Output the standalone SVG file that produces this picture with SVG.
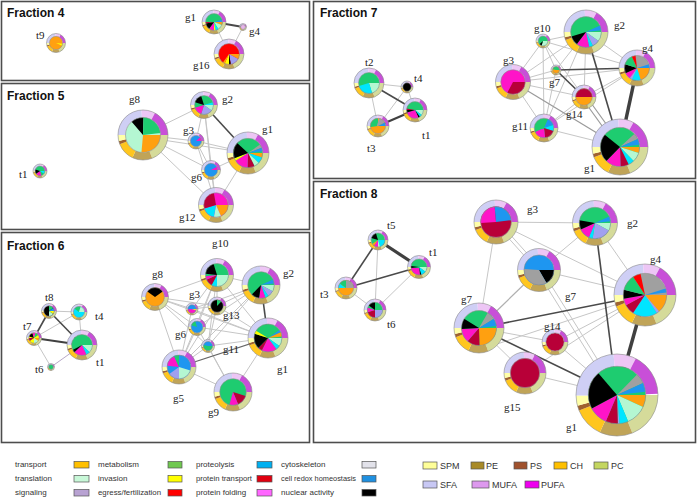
<svg xmlns="http://www.w3.org/2000/svg" xmlns:xlink="http://www.w3.org/1999/xlink" width="697" height="497" viewBox="0 0 697 497">
<style>
.fr{fill:#fff;stroke:#4d4d4d;stroke-width:1.6}
.ti{font:bold 12px "Liberation Sans",Arial,sans-serif;fill:#111}
.lb{font:11px "Liberation Serif","Times New Roman",serif;fill:#222}
.lg{font:8px "Liberation Sans",Arial,sans-serif;fill:#333}
.lg2{font:9px "Liberation Sans",Arial,sans-serif;fill:#333}
.l{stroke:#c6c6c6;stroke-width:1}
.m{stroke:#9a9a9a;stroke-width:1.2}
.d{stroke:#4a4a4a;stroke-width:1.6}
.t{stroke:#404040;stroke-width:3}
.rg{fill:none;stroke-width:3}
.s{fill:none;stroke-width:7}
.ol{fill:none;stroke:#8c8c8c;stroke-width:0.6;vector-effect:non-scaling-stroke}
.sw{stroke:#555;stroke-width:0.7}
.G{stroke:#1ecc70}.O{stroke:#ffa010}.K{stroke:#000}.M{stroke:#ff14c8}.D{stroke:#b80038}.C{stroke:#00e5ff}.B{stroke:#1e96f0}.L{stroke:#a0a0f0}.Y{stroke:#ffff00}.R{stroke:#ff0000}.N{stroke:#b4f7d2}.Gr{stroke:#a0a0a0}.P{stroke:#e8b4ea}
</style>
<defs>
<g id="ring">
<circle r="8.5" pathLength="100" class="rg" stroke="#d5db9a" stroke-dasharray="19 100"/>
<circle r="8.5" pathLength="100" class="rg" stroke="#c0a458" stroke-dasharray="13 100" stroke-dashoffset="-19"/>
<circle r="8.5" pathLength="100" class="rg" stroke="#ffc61e" stroke-dasharray="12 100" stroke-dashoffset="-32"/>
<circle r="8.5" pathLength="100" class="rg" stroke="#a0622e" stroke-dasharray="2 100" stroke-dashoffset="-44"/>
<circle r="8.5" pathLength="100" class="rg" stroke="#ffffa8" stroke-dasharray="4 100" stroke-dashoffset="-46"/>
<circle r="8.5" pathLength="100" class="rg" stroke="#cfcff5" stroke-dasharray="24 100" stroke-dashoffset="-50"/>
<circle r="8.5" pathLength="100" class="rg" stroke="#edc6f5" stroke-dasharray="9 100" stroke-dashoffset="-74"/>
<circle r="8.5" pathLength="100" class="rg" stroke="#c84fd8" stroke-dasharray="17 100" stroke-dashoffset="-83"/>
</g>
<g id="ol"><circle r="10" class="ol"/><circle r="7" class="ol"/></g>
</defs>
<rect width="697" height="497" fill="#fff"/>
<g id="frames">
<rect class="fr" x="1.5" y="1.5" width="308" height="79"/>
<rect class="fr" x="1.5" y="83.5" width="308" height="146"/>
<rect class="fr" x="1.5" y="232.5" width="308" height="210"/>
<rect class="fr" x="313.5" y="1.5" width="382" height="177"/>
<rect class="fr" x="313.5" y="181.5" width="382" height="261"/>
<text class="ti" x="7" y="17">Fraction 4</text>
<text class="ti" x="7" y="100">Fraction 5</text>
<text class="ti" x="7" y="250">Fraction 6</text>
<text class="ti" x="320" y="17">Fraction 7</text>
<text class="ti" x="320" y="198">Fraction 8</text>
</g>
<g id="connectors">
<line class="l" x1="214" y1="22" x2="229" y2="54"/><line class="l" x1="243" y1="27" x2="229" y2="54"/><line class="d" x1="214" y1="22" x2="243" y2="27" style="stroke-width:2"/>
<line class="l" x1="143" y1="135" x2="204" y2="105"/><line class="l" x1="143" y1="135" x2="196" y2="141"/><line class="l" x1="143" y1="137" x2="248" y2="153"/><line class="l" x1="143" y1="135" x2="211" y2="170"/><line class="l" x1="143" y1="135" x2="216" y2="205"/><line class="l" x1="204" y1="105" x2="196" y2="141"/><line class="l" x1="204" y1="105" x2="211" y2="170"/><line class="l" x1="204" y1="105" x2="216" y2="205"/><line class="l" x1="196" y1="141" x2="248" y2="153"/><line class="l" x1="196" y1="141" x2="211" y2="170"/><line class="l" x1="196" y1="141" x2="216" y2="205"/><line class="l" x1="211" y1="170" x2="248" y2="153"/><line class="l" x1="211" y1="170" x2="216" y2="205"/><line class="l" x1="248" y1="153" x2="216" y2="205"/><line class="d" x1="204" y1="105" x2="248" y2="153"/>
<line class="l" x1="49" y1="311" x2="79" y2="312"/><line class="l" x1="79" y1="312" x2="34" y2="338"/><line class="l" x1="79" y1="312" x2="82" y2="345"/><line class="l" x1="34" y1="338" x2="51" y2="367"/><line class="l" x1="51" y1="367" x2="82" y2="345" style="stroke:#b8a8c8"/><line class="d" x1="49" y1="311" x2="34" y2="338"/><line class="d" x1="49" y1="311" x2="82" y2="345"/><line class="t" x1="34" y1="338" x2="82" y2="345" style="stroke-width:2.2"/>
<line class="l" x1="217" y1="275" x2="155" y2="297"/><line class="l" x1="217" y1="275" x2="261" y2="285"/><line class="l" x1="217" y1="275" x2="192" y2="309"/><line class="l" x1="217" y1="275" x2="217" y2="306"/><line class="l" x1="217" y1="275" x2="197" y2="327"/><line class="l" x1="217" y1="275" x2="208" y2="346"/><line class="l" x1="217" y1="275" x2="179" y2="367"/><line class="l" x1="217" y1="275" x2="268" y2="338"/><line class="l" x1="155" y1="297" x2="192" y2="309"/><line class="l" x1="155" y1="297" x2="197" y2="327"/><line class="l" x1="155" y1="297" x2="179" y2="367"/><line class="l" x1="155" y1="297" x2="268" y2="338"/><line class="l" x1="155" y1="297" x2="208" y2="346"/><line class="l" x1="155" y1="297" x2="217" y2="306"/><line class="l" x1="261" y1="285" x2="217" y2="306"/><line class="l" x1="261" y1="285" x2="197" y2="327"/><line class="l" x1="261" y1="285" x2="179" y2="367"/><line class="l" x1="261" y1="285" x2="208" y2="346"/><line class="l" x1="261" y1="285" x2="192" y2="309"/><line class="l" x1="192" y1="309" x2="268" y2="338"/><line class="l" x1="192" y1="309" x2="179" y2="367"/><line class="l" x1="192" y1="309" x2="217" y2="306"/><line class="l" x1="217" y1="306" x2="179" y2="367"/><line class="l" x1="217" y1="306" x2="268" y2="338"/><line class="l" x1="217" y1="306" x2="208" y2="346"/><line class="l" x1="197" y1="327" x2="179" y2="367"/><line class="l" x1="197" y1="327" x2="268" y2="338"/><line class="l" x1="208" y1="346" x2="179" y2="367"/><line class="l" x1="208" y1="346" x2="268" y2="338"/><line class="l" x1="208" y1="346" x2="233" y2="392"/><line class="l" x1="179" y1="367" x2="233" y2="392"/><line class="l" x1="268" y1="338" x2="233" y2="392"/><line class="l" x1="197" y1="327" x2="233" y2="392"/><line class="d" x1="261" y1="285" x2="268" y2="338"/><line class="d" x1="179" y1="367" x2="268" y2="338" style="stroke:#666;stroke-width:1.3"/>
<line class="l" x1="369" y1="83" x2="407" y2="87"/><line class="l" x1="369" y1="83" x2="378" y2="126"/><line class="l" x1="378" y1="126" x2="407" y2="87"/><line class="l" x1="407" y1="87" x2="415" y2="110"/><line class="d" x1="369" y1="83" x2="415" y2="110"/><line class="t" x1="378" y1="126" x2="415" y2="110" style="stroke-width:2.2"/>
<line class="l" x1="543" y1="41" x2="586" y2="32"/><line class="l" x1="543" y1="41" x2="513" y2="82"/><line class="l" x1="543" y1="41" x2="556" y2="70"/><line class="l" x1="543" y1="41" x2="544" y2="128"/><line class="l" x1="543" y1="41" x2="584" y2="97"/><line class="l" x1="543" y1="41" x2="637" y2="68"/><line class="l" x1="513" y1="82" x2="586" y2="32"/><line class="l" x1="513" y1="82" x2="637" y2="68"/><line class="l" x1="513" y1="82" x2="544" y2="128"/><line class="l" x1="513" y1="82" x2="584" y2="97"/><line class="l" x1="513" y1="82" x2="556" y2="70"/><line class="l" x1="586" y1="32" x2="637" y2="68"/><line class="l" x1="586" y1="32" x2="544" y2="128"/><line class="l" x1="586" y1="32" x2="584" y2="97"/><line class="l" x1="586" y1="32" x2="556" y2="70"/><line class="l" x1="637" y1="68" x2="584" y2="97"/><line class="l" x1="637" y1="68" x2="544" y2="128"/><line class="l" x1="544" y1="128" x2="620" y2="147"/><line class="l" x1="544" y1="128" x2="584" y2="97"/><line class="l" x1="544" y1="128" x2="556" y2="70"/><line class="m" x1="513" y1="82" x2="620" y2="147"/><line class="m" x1="582" y1="98" x2="618" y2="148"/><line class="m" x1="586" y1="96" x2="622" y2="146"/><line class="d" x1="556" y1="70" x2="637" y2="68"/><line class="d" x1="556" y1="70" x2="584" y2="97"/><line class="d" x1="586" y1="32" x2="620" y2="147"/><line class="t" x1="637" y1="68" x2="620" y2="147" style="stroke-width:3.5"/>
<line class="l" x1="378" y1="240" x2="375" y2="310"/><line class="l" x1="346" y1="288" x2="375" y2="310"/><line class="l" x1="375" y1="310" x2="419" y2="267"/><line class="d" x1="378" y1="240" x2="346" y2="288"/><line class="d" x1="346" y1="288" x2="419" y2="267"/><line class="t" x1="378" y1="240" x2="419" y2="267" style="stroke-width:3.2"/>
<line class="l" x1="496" y1="222" x2="595" y2="223"/><line class="l" x1="496" y1="222" x2="479" y2="328"/><line class="l" x1="496" y1="222" x2="645" y2="295"/><line class="l" x1="495" y1="223" x2="538" y2="271"/><line class="l" x1="498" y1="221" x2="541" y2="269"/><line class="l" x1="595" y1="223" x2="539" y2="270"/><line class="l" x1="595" y1="223" x2="645" y2="295"/><line class="l" x1="539" y1="270" x2="645" y2="295"/><line class="l" x1="539" y1="270" x2="479" y2="328" style="stroke:#b0b0b0;stroke-width:1.3"/><line class="l" x1="537" y1="271" x2="615" y2="396"/><line class="l" x1="541" y1="269" x2="619" y2="394"/><line class="l" x1="479" y1="328" x2="555" y2="342"/><line class="l" x1="479" y1="328" x2="525" y2="373"/><line class="l" x1="525" y1="373" x2="617" y2="395"/><line class="l" x1="645" y1="295" x2="555" y2="342"/><line class="l" x1="645" y1="295" x2="525" y2="373"/><line class="l" x1="555" y1="342" x2="617" y2="395"/><line class="l" x1="645" y1="295" x2="479" y2="350"/><line class="d" x1="479" y1="328" x2="645" y2="295"/><line class="d" x1="479" y1="328" x2="617" y2="395"/><line class="d" x1="595" y1="223" x2="617" y2="395"/><line class="t" x1="645" y1="295" x2="617" y2="395" style="stroke-width:3.5"/>
</g>
<g id="f4-t9"><g transform="translate(56 43) scale(.95)"><use href="#ring"/><circle r="3.5" class="s O"/><circle r="3.5" pathLength="100" class="s Y" stroke-dasharray="5 100" stroke-dashoffset="-2"/><use href="#ol"/></g><text class="lb" x="36" y="39">t9</text></g>
<g id="f4-g1"><g transform="translate(214 22) scale(1.2)"><use href="#ring"/><circle r="3.5" class="s G"/><circle r="3.5" pathLength="100" class="s B" stroke-dasharray="5 100" stroke-dashoffset="-95"/><circle r="3.5" pathLength="100" class="s O" stroke-dasharray="6 100"/><circle r="3.5" pathLength="100" class="s N" stroke-dasharray="10 100" stroke-dashoffset="-6"/><circle r="3.5" pathLength="100" class="s C" stroke-dasharray="6 100" stroke-dashoffset="-16"/><circle r="3.5" pathLength="100" class="s Y" stroke-dasharray="3 100" stroke-dashoffset="-22"/><circle r="3.5" pathLength="100" class="s M" stroke-dasharray="10 100" stroke-dashoffset="-25"/><circle r="3.5" pathLength="100" class="s K" stroke-dasharray="12 100" stroke-dashoffset="-35"/><circle r="3.5" pathLength="100" class="s D" stroke-dasharray="3 100" stroke-dashoffset="-47"/><use href="#ol"/></g><text class="lb" x="185" y="21">g1</text></g>
<g id="f4-g4"><g transform="translate(243 27) scale(.35)"><use href="#ring"/><circle r="3.5" class="s P"/><use href="#ol"/></g><text class="lb" x="249" y="35">g4</text></g>
<g id="f4-g16"><g transform="translate(229 54) scale(1.5)"><use href="#ring"/><circle r="3.5" class="s R"/><circle r="3.5" pathLength="100" class="s O" stroke-dasharray="8 100"/><circle r="3.5" pathLength="100" class="s L" stroke-dasharray="14 100" stroke-dashoffset="-8"/><circle r="3.5" pathLength="100" class="s K" stroke-dasharray="3 100" stroke-dashoffset="-22"/><circle r="3.5" pathLength="100" class="s Y" stroke-dasharray="7 100" stroke-dashoffset="-25"/><circle r="3.5" pathLength="100" class="s O" stroke-dasharray="3 100" stroke-dashoffset="-32"/><use href="#ol"/></g><text class="lb" x="193" y="69">g16</text></g>
<g id="f5-t1"><g transform="translate(40 171) scale(.7)"><use href="#ring"/><circle r="3.5" class="s G"/><circle r="3.5" pathLength="100" class="s C" stroke-dasharray="10 100"/><circle r="3.5" pathLength="100" class="s M" stroke-dasharray="20 100" stroke-dashoffset="-20"/><circle r="3.5" pathLength="100" class="s K" stroke-dasharray="15 100" stroke-dashoffset="-40"/><use href="#ol"/></g><text class="lb" x="19" y="178">t1</text></g>
<g id="f5-g8"><g transform="translate(143 135) scale(2.5)"><use href="#ring"/><circle r="3.5" class="s N"/><circle r="3.5" pathLength="100" class="s K" stroke-dasharray="12 100" stroke-dashoffset="-65"/><circle r="3.5" pathLength="100" class="s G" stroke-dasharray="23 100" stroke-dashoffset="-77"/><circle r="3.5" pathLength="100" class="s O" stroke-dasharray="27 100"/><use href="#ol"/></g><text class="lb" x="129" y="103">g8</text></g>
<g id="f5-g2"><g transform="translate(204 105) scale(1.35)"><use href="#ring"/><circle r="3.5" class="s G"/><circle r="3.5" pathLength="100" class="s C" stroke-dasharray="5 100" stroke-dashoffset="-95"/><circle r="3.5" pathLength="100" class="s N" stroke-dasharray="10 100"/><circle r="3.5" pathLength="100" class="s L" stroke-dasharray="20 100" stroke-dashoffset="-10"/><circle r="3.5" pathLength="100" class="s M" stroke-dasharray="15 100" stroke-dashoffset="-30"/><circle r="3.5" pathLength="100" class="s K" stroke-dasharray="15 100" stroke-dashoffset="-55"/><use href="#ol"/></g><text class="lb" x="222" y="103">g2</text></g>
<g id="f5-g3"><g transform="translate(196 141) scale(.8)"><use href="#ring"/><circle r="3.5" class="s B"/><circle r="3.5" pathLength="100" class="s M" stroke-dasharray="12 100" stroke-dashoffset="-88"/><use href="#ol"/></g><text class="lb" x="183" y="134">g3</text></g>
<g id="f5-g1"><g transform="translate(248 153) scale(2.1)"><use href="#ring"/><circle r="3.5" class="s G"/><circle r="3.5" pathLength="100" class="s Gr" stroke-dasharray="4 100" stroke-dashoffset="-92"/><circle r="3.5" pathLength="100" class="s B" stroke-dasharray="4 100" stroke-dashoffset="-96"/><circle r="3.5" pathLength="100" class="s O" stroke-dasharray="5 100"/><circle r="3.5" pathLength="100" class="s C" stroke-dasharray="7 100" stroke-dashoffset="-5"/><circle r="3.5" pathLength="100" class="s N" stroke-dasharray="6 100" stroke-dashoffset="-12"/><circle r="3.5" pathLength="100" class="s D" stroke-dasharray="8 100" stroke-dashoffset="-18"/><circle r="3.5" pathLength="100" class="s M" stroke-dasharray="16 100" stroke-dashoffset="-26"/><circle r="3.5" pathLength="100" class="s Y" stroke-dasharray="3 100" stroke-dashoffset="-42"/><circle r="3.5" pathLength="100" class="s K" stroke-dasharray="18 100" stroke-dashoffset="-45"/><use href="#ol"/></g><text class="lb" x="262" y="133">g1</text></g>
<g id="f5-g6"><g transform="translate(211 170) scale(.95)"><use href="#ring"/><circle r="3.5" class="s B"/><circle r="3.5" pathLength="100" class="s M" stroke-dasharray="8 100" stroke-dashoffset="-92"/><use href="#ol"/></g><text class="lb" x="191" y="181">g6</text></g>
<g id="f5-g12"><g transform="translate(216 205) scale(1.75)"><use href="#ring"/><circle r="3.5" class="s M"/><circle r="3.5" pathLength="100" class="s O" stroke-dasharray="18 100"/><circle r="3.5" pathLength="100" class="s N" stroke-dasharray="10 100" stroke-dashoffset="-18"/><circle r="3.5" pathLength="100" class="s C" stroke-dasharray="17 100" stroke-dashoffset="-28"/><circle r="3.5" pathLength="100" class="s D" stroke-dasharray="27 100" stroke-dashoffset="-45"/><use href="#ol"/></g><text class="lb" x="179" y="221">g12</text></g>
<g id="f6-t8"><g transform="translate(49 311) scale(.75)"><use href="#ring"/><circle r="3.5" class="s K"/><circle r="3.5" pathLength="100" class="s G" stroke-dasharray="15 100" stroke-dashoffset="-75"/><circle r="3.5" pathLength="100" class="s B" stroke-dasharray="10 100" stroke-dashoffset="-90"/><circle r="3.5" pathLength="100" class="s Y" stroke-dasharray="10 100"/><circle r="3.5" pathLength="100" class="s N" stroke-dasharray="15 100" stroke-dashoffset="-10"/><use href="#ol"/></g><text class="lb" x="45" y="301">t8</text></g>
<g id="f6-t4"><g transform="translate(79 312) scale(.8)"><use href="#ring"/><circle r="3.5" class="s C"/><circle r="3.5" pathLength="100" class="s G" stroke-dasharray="20 100" stroke-dashoffset="-60"/><circle r="3.5" pathLength="100" class="s N" stroke-dasharray="20 100" stroke-dashoffset="-80"/><use href="#ol"/></g><text class="lb" x="95" y="320">t4</text></g>
<g id="f6-t7"><g transform="translate(34 338) scale(.75)"><use href="#ring"/><circle r="3.5" class="s Y"/><circle r="3.5" pathLength="100" class="s K" stroke-dasharray="15 100" stroke-dashoffset="-55"/><circle r="3.5" pathLength="100" class="s M" stroke-dasharray="10 100" stroke-dashoffset="-70"/><circle r="3.5" pathLength="100" class="s G" stroke-dasharray="10 100" stroke-dashoffset="-80"/><circle r="3.5" pathLength="100" class="s O" stroke-dasharray="10 100"/><circle r="3.5" pathLength="100" class="s N" stroke-dasharray="15 100" stroke-dashoffset="-10"/><circle r="3.5" pathLength="100" class="s D" stroke-dasharray="10 100" stroke-dashoffset="-40"/><use href="#ol"/></g><text class="lb" x="23" y="330">t7</text></g>
<g id="f6-t1"><g transform="translate(82 345) scale(1.5)"><use href="#ring"/><circle r="3.5" class="s G"/><circle r="3.5" pathLength="100" class="s N" stroke-dasharray="12 100"/><circle r="3.5" pathLength="100" class="s C" stroke-dasharray="6 100" stroke-dashoffset="-12"/><circle r="3.5" pathLength="100" class="s M" stroke-dasharray="20 100" stroke-dashoffset="-18"/><circle r="3.5" pathLength="100" class="s K" stroke-dasharray="4 100" stroke-dashoffset="-38"/><use href="#ol"/></g><text class="lb" x="96" y="366">t1</text></g>
<g id="f6-t6"><g transform="translate(51 367) scale(.35)"><use href="#ring"/><circle r="3.5" class="s G"/><use href="#ol"/></g><text class="lb" x="35" y="373">t6</text></g>
<g id="f6-g10"><g transform="translate(217 275) scale(1.65)"><use href="#ring"/><circle r="3.5" class="s G"/><circle r="3.5" pathLength="100" class="s N" stroke-dasharray="25 100"/><circle r="3.5" pathLength="100" class="s C" stroke-dasharray="8 100" stroke-dashoffset="-25"/><circle r="3.5" pathLength="100" class="s D" stroke-dasharray="10 100" stroke-dashoffset="-33"/><circle r="3.5" pathLength="100" class="s M" stroke-dasharray="5 100" stroke-dashoffset="-43"/><circle r="3.5" pathLength="100" class="s K" stroke-dasharray="18 100" stroke-dashoffset="-52"/><use href="#ol"/></g><text class="lb" x="212" y="247">g10</text></g>
<g id="f6-g2"><g transform="translate(261 285) scale(1.9)"><use href="#ring"/><circle r="3.5" class="s G"/><circle r="3.5" pathLength="100" class="s B" stroke-dasharray="5 100" stroke-dashoffset="-95"/><circle r="3.5" pathLength="100" class="s N" stroke-dasharray="8 100"/><circle r="3.5" pathLength="100" class="s L" stroke-dasharray="8 100" stroke-dashoffset="-8"/><circle r="3.5" pathLength="100" class="s C" stroke-dasharray="4 100" stroke-dashoffset="-16"/><circle r="3.5" pathLength="100" class="s M" stroke-dasharray="8 100" stroke-dashoffset="-20"/><circle r="3.5" pathLength="100" class="s K" stroke-dasharray="10 100" stroke-dashoffset="-28"/><use href="#ol"/></g><text class="lb" x="283" y="277">g2</text></g>
<g id="f6-g8"><g transform="translate(155 297) scale(1.35)"><use href="#ring"/><circle r="3.5" class="s O"/><circle r="3.5" pathLength="100" class="s K" stroke-dasharray="30 100" stroke-dashoffset="-60"/><use href="#ol"/></g><text class="lb" x="152" y="278">g8</text></g>
<g id="f6-g3"><g transform="translate(192 309) scale(.6)"><use href="#ring"/><circle r="3.5" class="s B"/><circle r="3.5" pathLength="100" class="s M" stroke-dasharray="40 100" stroke-dashoffset="-5"/><circle r="3.5" pathLength="100" class="s Y" stroke-dasharray="5 100"/><use href="#ol"/></g><text class="lb" x="189" y="298">g3</text></g>
<g id="f6-g13"><g transform="translate(217 306) scale(.9)"><use href="#ring"/><circle r="3.5" class="s K"/><circle r="3.5" pathLength="100" class="s G" stroke-dasharray="12 100" stroke-dashoffset="-75"/><use href="#ol"/></g><text class="lb" x="223" y="319">g13</text></g>
<g id="f6-g6"><g transform="translate(197 327) scale(.85)"><use href="#ring"/><circle r="3.5" class="s B"/><circle r="3.5" pathLength="100" class="s G" stroke-dasharray="15 100" stroke-dashoffset="-55"/><use href="#ol"/></g><text class="lb" x="175" y="338">g6</text></g>
<g id="f6-g11"><g transform="translate(208 346) scale(.65)"><use href="#ring"/><circle r="3.5" class="s B"/><circle r="3.5" pathLength="100" class="s G" stroke-dasharray="50 100"/><use href="#ol"/></g><text class="lb" x="223" y="353">g11</text></g>
<g id="f6-g1"><g transform="translate(268 338) scale(2)"><use href="#ring"/><circle r="3.5" class="s G"/><circle r="3.5" pathLength="100" class="s B" stroke-dasharray="3 100" stroke-dashoffset="-92"/><circle r="3.5" pathLength="100" class="s O" stroke-dasharray="5 100" stroke-dashoffset="-95"/><circle r="3.5" pathLength="100" class="s N" stroke-dasharray="10 100"/><circle r="3.5" pathLength="100" class="s C" stroke-dasharray="5 100" stroke-dashoffset="-10"/><circle r="3.5" pathLength="100" class="s M" stroke-dasharray="18 100" stroke-dashoffset="-15"/><circle r="3.5" pathLength="100" class="s D" stroke-dasharray="5 100" stroke-dashoffset="-33"/><circle r="3.5" pathLength="100" class="s K" stroke-dasharray="18 100" stroke-dashoffset="-38"/><circle r="3.5" pathLength="100" class="s Y" stroke-dasharray="4 100" stroke-dashoffset="-56"/><use href="#ol"/></g><text class="lb" x="277" y="373">g1</text></g>
<g id="f6-g5"><g transform="translate(179 367) scale(1.7)"><use href="#ring"/><circle r="3.5" class="s B"/><circle r="3.5" pathLength="100" class="s M" stroke-dasharray="16 100" stroke-dashoffset="-52"/><circle r="3.5" pathLength="100" class="s G" stroke-dasharray="7 100" stroke-dashoffset="-68"/><circle r="3.5" pathLength="100" class="s N" stroke-dasharray="20 100" stroke-dashoffset="-5"/><circle r="3.5" pathLength="100" class="s L" stroke-dasharray="15 100" stroke-dashoffset="-25"/><use href="#ol"/></g><text class="lb" x="173" y="402">g5</text></g>
<g id="f6-g9"><g transform="translate(233 392) scale(1.9)"><use href="#ring"/><circle r="3.5" class="s G"/><circle r="3.5" pathLength="100" class="s D" stroke-dasharray="14 100" stroke-dashoffset="-5"/><circle r="3.5" pathLength="100" class="s M" stroke-dasharray="11 100" stroke-dashoffset="-19"/><use href="#ol"/></g><text class="lb" x="208" y="416">g9</text></g>
<g id="f7-t2"><g transform="translate(369 83) scale(1.5)"><use href="#ring"/><circle r="3.5" class="s G"/><circle r="3.5" pathLength="100" class="s N" stroke-dasharray="20 100"/><circle r="3.5" pathLength="100" class="s C" stroke-dasharray="25 100" stroke-dashoffset="-20"/><use href="#ol"/></g><text class="lb" x="365" y="66">t2</text></g>
<g id="f7-t4"><g transform="translate(407 87) scale(.6)"><use href="#ring"/><circle r="3.5" class="s K"/><use href="#ol"/></g><text class="lb" x="414" y="82">t4</text></g>
<g id="f7-t1"><g transform="translate(415 110) scale(1.2)"><use href="#ring"/><circle r="3.5" class="s G"/><circle r="3.5" pathLength="100" class="s N" stroke-dasharray="10 100"/><circle r="3.5" pathLength="100" class="s C" stroke-dasharray="5 100" stroke-dashoffset="-10"/><circle r="3.5" pathLength="100" class="s K" stroke-dasharray="3 100" stroke-dashoffset="-15"/><circle r="3.5" pathLength="100" class="s M" stroke-dasharray="27 100" stroke-dashoffset="-18"/><circle r="3.5" pathLength="100" class="s K" stroke-dasharray="5 100" stroke-dashoffset="-45"/><circle r="3.5" pathLength="100" class="s D" stroke-dasharray="3 100" stroke-dashoffset="-50"/><use href="#ol"/></g><text class="lb" x="422" y="139">t1</text></g>
<g id="f7-t3"><g transform="translate(378 126) scale(1.1)"><use href="#ring"/><circle r="3.5" class="s O"/><circle r="3.5" pathLength="100" class="s G" stroke-dasharray="27 100" stroke-dashoffset="-48"/><circle r="3.5" pathLength="100" class="s Gr" stroke-dasharray="17 100" stroke-dashoffset="-75"/><circle r="3.5" pathLength="100" class="s B" stroke-dasharray="8 100" stroke-dashoffset="-92"/><use href="#ol"/></g><text class="lb" x="367" y="152">t3</text></g>
<g id="f7-g10"><g transform="translate(543 41) scale(.7)"><use href="#ring"/><circle r="3.5" class="s G"/><circle r="3.5" pathLength="100" class="s N" stroke-dasharray="30 100"/><circle r="3.5" pathLength="100" class="s K" stroke-dasharray="8 100" stroke-dashoffset="-30"/><use href="#ol"/></g><text class="lb" x="534" y="32">g10</text></g>
<g id="f7-g2"><g transform="translate(586 32) scale(2.2)"><use href="#ring"/><circle r="3.5" class="s G"/><circle r="3.5" pathLength="100" class="s B" stroke-dasharray="5 100" stroke-dashoffset="-95"/><circle r="3.5" pathLength="100" class="s N" stroke-dasharray="10 100"/><circle r="3.5" pathLength="100" class="s L" stroke-dasharray="8 100" stroke-dashoffset="-10"/><circle r="3.5" pathLength="100" class="s C" stroke-dasharray="4 100" stroke-dashoffset="-18"/><circle r="3.5" pathLength="100" class="s M" stroke-dasharray="14 100" stroke-dashoffset="-22"/><circle r="3.5" pathLength="100" class="s K" stroke-dasharray="10 100" stroke-dashoffset="-36"/><use href="#ol"/></g><text class="lb" x="614" y="29">g2</text></g>
<g id="f7-g4"><g transform="translate(637 68) scale(1.8)"><use href="#ring"/><circle r="3.5" class="s Gr"/><circle r="3.5" pathLength="100" class="s B" stroke-dasharray="5 100" stroke-dashoffset="-95"/><circle r="3.5" pathLength="100" class="s O" stroke-dasharray="20 100"/><circle r="3.5" pathLength="100" class="s C" stroke-dasharray="12 100" stroke-dashoffset="-20"/><circle r="3.5" pathLength="100" class="s L" stroke-dasharray="3 100" stroke-dashoffset="-32"/><circle r="3.5" pathLength="100" class="s M" stroke-dasharray="8 100" stroke-dashoffset="-35"/><circle r="3.5" pathLength="100" class="s K" stroke-dasharray="12 100" stroke-dashoffset="-43"/><circle r="3.5" pathLength="100" class="s G" stroke-dasharray="13 100" stroke-dashoffset="-55"/><circle r="3.5" pathLength="100" class="s R" stroke-dasharray="5 100" stroke-dashoffset="-68"/><use href="#ol"/></g><text class="lb" x="642" y="52">g4</text></g>
<g id="f7-g3"><g transform="translate(513 82) scale(1.75)"><use href="#ring"/><circle r="3.5" class="s M"/><circle r="3.5" pathLength="100" class="s D" stroke-dasharray="33 100"/><use href="#ol"/></g><text class="lb" x="503" y="64">g3</text></g>
<g id="f7-g7"><g transform="translate(556 70) scale(.5)"><use href="#ring"/><circle r="3.5" class="s O"/><circle r="3.5" pathLength="100" class="s G" stroke-dasharray="50 100" stroke-dashoffset="-50"/><use href="#ol"/></g><text class="lb" x="549" y="86">g7</text></g>
<g id="f7-g14"><g transform="translate(584 97) scale(1.2)"><use href="#ring"/><circle r="3.5" class="s O"/><circle r="3.5" pathLength="100" class="s D" stroke-dasharray="50 100" stroke-dashoffset="-50"/><use href="#ol"/></g><text class="lb" x="566" y="118">g14</text></g>
<g id="f7-g11"><g transform="translate(544 128) scale(1.4)"><use href="#ring"/><circle r="3.5" class="s G"/><circle r="3.5" pathLength="100" class="s B" stroke-dasharray="13 100" stroke-dashoffset="-82"/><circle r="3.5" pathLength="100" class="s C" stroke-dasharray="5 100" stroke-dashoffset="-95"/><circle r="3.5" pathLength="100" class="s C" stroke-dasharray="5 100"/><circle r="3.5" pathLength="100" class="s D" stroke-dasharray="18 100" stroke-dashoffset="-5"/><circle r="3.5" pathLength="100" class="s M" stroke-dasharray="20 100" stroke-dashoffset="-23"/><use href="#ol"/></g><text class="lb" x="512" y="130">g11</text></g>
<g id="f7-g1"><g transform="translate(620 147) scale(2.8)"><use href="#ring"/><circle r="3.5" class="s G"/><circle r="3.5" pathLength="100" class="s Gr" stroke-dasharray="5 100" stroke-dashoffset="-90"/><circle r="3.5" pathLength="100" class="s B" stroke-dasharray="5 100" stroke-dashoffset="-95"/><circle r="3.5" pathLength="100" class="s O" stroke-dasharray="5 100"/><circle r="3.5" pathLength="100" class="s N" stroke-dasharray="8 100" stroke-dashoffset="-5"/><circle r="3.5" pathLength="100" class="s C" stroke-dasharray="5 100" stroke-dashoffset="-13"/><circle r="3.5" pathLength="100" class="s D" stroke-dasharray="7 100" stroke-dashoffset="-18"/><circle r="3.5" pathLength="100" class="s M" stroke-dasharray="13 100" stroke-dashoffset="-25"/><circle r="3.5" pathLength="100" class="s K" stroke-dasharray="24 100" stroke-dashoffset="-38"/><use href="#ol"/></g><text class="lb" x="584" y="172">g1</text></g>
<g id="f8-t5"><g transform="translate(378 240) scale(1)"><use href="#ring"/><circle r="3.5" class="s G"/><circle r="3.5" pathLength="100" class="s C" stroke-dasharray="20 100"/><circle r="3.5" pathLength="100" class="s N" stroke-dasharray="5 100" stroke-dashoffset="-20"/><circle r="3.5" pathLength="100" class="s M" stroke-dasharray="10 100" stroke-dashoffset="-25"/><circle r="3.5" pathLength="100" class="s O" stroke-dasharray="5 100" stroke-dashoffset="-35"/><circle r="3.5" pathLength="100" class="s K" stroke-dasharray="15 100" stroke-dashoffset="-55"/><use href="#ol"/></g><text class="lb" x="387" y="229">t5</text></g>
<g id="f8-t1"><g transform="translate(419 267) scale(1.15)"><use href="#ring"/><circle r="3.5" class="s G"/><circle r="3.5" pathLength="100" class="s N" stroke-dasharray="10 100"/><circle r="3.5" pathLength="100" class="s C" stroke-dasharray="10 100" stroke-dashoffset="-10"/><circle r="3.5" pathLength="100" class="s K" stroke-dasharray="3 100" stroke-dashoffset="-20"/><circle r="3.5" pathLength="100" class="s M" stroke-dasharray="25 100" stroke-dashoffset="-23"/><circle r="3.5" pathLength="100" class="s K" stroke-dasharray="4 100" stroke-dashoffset="-48"/><use href="#ol"/></g><text class="lb" x="429" y="256">t1</text></g>
<g id="f8-t3"><g transform="translate(346 288) scale(1.1)"><use href="#ring"/><circle r="3.5" class="s O"/><circle r="3.5" pathLength="100" class="s C" stroke-dasharray="10 100" stroke-dashoffset="-50"/><circle r="3.5" pathLength="100" class="s G" stroke-dasharray="15 100" stroke-dashoffset="-60"/><circle r="3.5" pathLength="100" class="s Gr" stroke-dasharray="25 100" stroke-dashoffset="-75"/><use href="#ol"/></g><text class="lb" x="320" y="298">t3</text></g>
<g id="f8-t6"><g transform="translate(375 310) scale(1.1)"><use href="#ring"/><circle r="3.5" class="s G"/><circle r="3.5" pathLength="100" class="s L" stroke-dasharray="25 100"/><circle r="3.5" pathLength="100" class="s D" stroke-dasharray="20 100" stroke-dashoffset="-25"/><circle r="3.5" pathLength="100" class="s M" stroke-dasharray="10 100" stroke-dashoffset="-45"/><circle r="3.5" pathLength="100" class="s K" stroke-dasharray="15 100" stroke-dashoffset="-60"/><use href="#ol"/></g><text class="lb" x="387" y="328">t6</text></g>
<g id="f8-g3"><g transform="translate(496 222) scale(2.2)"><use href="#ring"/><circle r="3.5" class="s D"/><circle r="3.5" pathLength="100" class="s M" stroke-dasharray="25 100" stroke-dashoffset="-50"/><circle r="3.5" pathLength="100" class="s B" stroke-dasharray="25 100" stroke-dashoffset="-75"/><use href="#ol"/></g><text class="lb" x="527" y="213">g3</text></g>
<g id="f8-g2"><g transform="translate(595 223) scale(2.25)"><use href="#ring"/><circle r="3.5" class="s G"/><circle r="3.5" pathLength="100" class="s B" stroke-dasharray="5 100" stroke-dashoffset="-95"/><circle r="3.5" pathLength="100" class="s N" stroke-dasharray="8 100"/><circle r="3.5" pathLength="100" class="s L" stroke-dasharray="20 100" stroke-dashoffset="-8"/><circle r="3.5" pathLength="100" class="s C" stroke-dasharray="4 100" stroke-dashoffset="-28"/><circle r="3.5" pathLength="100" class="s M" stroke-dasharray="12 100" stroke-dashoffset="-32"/><circle r="3.5" pathLength="100" class="s K" stroke-dasharray="10 100" stroke-dashoffset="-44"/><use href="#ol"/></g><text class="lb" x="627" y="227">g2</text></g>
<g id="f8-g7a"><g transform="translate(539 270) scale(2.15)"><use href="#ring"/><circle r="3.5" class="s B"/><circle r="3.5" pathLength="100" class="s K" stroke-dasharray="17 100"/><circle r="3.5" pathLength="100" class="s Gr" stroke-dasharray="35 100" stroke-dashoffset="-17"/><use href="#ol"/></g><text class="lb" x="565" y="300">g7</text></g>
<g id="f8-g4"><g transform="translate(645 295) scale(3.1)"><use href="#ring"/><circle r="3.5" class="s Gr"/><circle r="3.5" pathLength="100" class="s B" stroke-dasharray="3 100" stroke-dashoffset="-97"/><circle r="3.5" pathLength="100" class="s O" stroke-dasharray="14 100"/><circle r="3.5" pathLength="100" class="s L" stroke-dasharray="2 100" stroke-dashoffset="-14"/><circle r="3.5" pathLength="100" class="s C" stroke-dasharray="19 100" stroke-dashoffset="-16"/><circle r="3.5" pathLength="100" class="s D" stroke-dasharray="8 100" stroke-dashoffset="-35"/><circle r="3.5" pathLength="100" class="s M" stroke-dasharray="5 100" stroke-dashoffset="-43"/><circle r="3.5" pathLength="100" class="s K" stroke-dasharray="7 100" stroke-dashoffset="-48"/><circle r="3.5" pathLength="100" class="s G" stroke-dasharray="12 100" stroke-dashoffset="-55"/><circle r="3.5" pathLength="100" class="s R" stroke-dasharray="6 100" stroke-dashoffset="-67"/><use href="#ol"/></g><text class="lb" x="650" y="263">g4</text></g>
<g id="f8-g7b"><g transform="translate(479 328) scale(2.5)"><use href="#ring"/><circle r="3.5" class="s G"/><circle r="3.5" pathLength="100" class="s Gr" stroke-dasharray="8 100" stroke-dashoffset="-85"/><circle r="3.5" pathLength="100" class="s B" stroke-dasharray="7 100" stroke-dashoffset="-93"/><circle r="3.5" pathLength="100" class="s O" stroke-dasharray="25 100"/><circle r="3.5" pathLength="100" class="s D" stroke-dasharray="12 100" stroke-dashoffset="-25"/><circle r="3.5" pathLength="100" class="s M" stroke-dasharray="13 100" stroke-dashoffset="-37"/><circle r="3.5" pathLength="100" class="s K" stroke-dasharray="10 100" stroke-dashoffset="-50"/><use href="#ol"/></g><text class="lb" x="461" y="303">g7</text></g>
<g id="f8-g14"><g transform="translate(555 342) scale(1.3)"><use href="#ring"/><circle r="3.5" class="s D"/><use href="#ol"/></g><text class="lb" x="544" y="330">g14</text></g>
<g id="f8-g15"><g transform="translate(525 373) scale(2.1)"><use href="#ring"/><circle r="3.5" class="s D"/><use href="#ol"/></g><text class="lb" x="504" y="411">g15</text></g>
<g id="f8-g1"><g transform="translate(617 395) scale(4.1)"><use href="#ring"/><circle r="3.5" class="s G"/><circle r="3.5" pathLength="100" class="s Gr" stroke-dasharray="6 100" stroke-dashoffset="-89"/><circle r="3.5" pathLength="100" class="s B" stroke-dasharray="5 100" stroke-dashoffset="-95"/><circle r="3.5" pathLength="100" class="s O" stroke-dasharray="7 100"/><circle r="3.5" pathLength="100" class="s N" stroke-dasharray="12 100" stroke-dashoffset="-7"/><circle r="3.5" pathLength="100" class="s C" stroke-dasharray="5 100" stroke-dashoffset="-19"/><circle r="3.5" pathLength="100" class="s L" stroke-dasharray="1 100" stroke-dashoffset="-24"/><circle r="3.5" pathLength="100" class="s D" stroke-dasharray="7 100" stroke-dashoffset="-25"/><circle r="3.5" pathLength="100" class="s M" stroke-dasharray="11 100" stroke-dashoffset="-32"/><circle r="3.5" pathLength="100" class="s K" stroke-dasharray="22 100" stroke-dashoffset="-43"/><use href="#ol"/></g><text class="lb" x="566" y="431">g1</text></g>
<g id="legend">
<text class="lg" x="15" y="467">transport</text><rect class="sw" x="74" y="461.5" width="15" height="6.5" fill="#ffc000"/><text class="lg" x="98" y="467">metabolism</text><rect class="sw" x="168" y="461.5" width="14" height="6.5" fill="#70c850"/><text class="lg" x="196" y="467">proteolysis</text><rect class="sw" x="257" y="461.5" width="15" height="6.5" fill="#00b0f0"/><text class="lg" x="281" y="467">cytoskeleton</text><rect class="sw" x="362" y="461.5" width="14" height="6.5" fill="#e2e2ea"/>
<text class="lg" x="15" y="481">translation</text><rect class="sw" x="74" y="475.5" width="15" height="6.5" fill="#c8f8d8"/><text class="lg" x="98" y="481">invasion</text><rect class="sw" x="168" y="475.5" width="14" height="6.5" fill="#ffff00"/><text class="lg" x="196" y="481" textLength="56" lengthAdjust="spacingAndGlyphs">protein transport</text><rect class="sw" x="257" y="475.5" width="15" height="6.5" fill="#e00010"/><text class="lg" x="281" y="481" textLength="75" lengthAdjust="spacingAndGlyphs">cell redox homeostasis</text><rect class="sw" x="362" y="475.5" width="14" height="6.5" fill="#2090e0"/>
<text class="lg" x="15" y="495">signaling</text><rect class="sw" x="74" y="489.5" width="15" height="6.5" fill="#b8a2d2"/><text class="lg" x="98" y="495" textLength="63" lengthAdjust="spacingAndGlyphs">egress/fertilization</text><rect class="sw" x="168" y="489.5" width="14" height="6.5" fill="#ff0000"/><text class="lg" x="196" y="495">protein folding</text><rect class="sw" x="257" y="489.5" width="15" height="6.5" fill="#ff66ff"/><text class="lg" x="281" y="495">nuclear activity</text><rect class="sw" x="362" y="489.5" width="14" height="6.5" fill="#000"/>
<rect class="sw" x="423" y="462" width="14" height="7" fill="#ffff99"/><text class="lg2" x="440" y="469">SPM</text><rect class="sw" x="471" y="462" width="13" height="7" fill="#a88a28"/><text class="lg2" x="486" y="469">PE</text><rect class="sw" x="514" y="462" width="13" height="7" fill="#a0522d"/><text class="lg2" x="530" y="469">PS</text><rect class="sw" x="554" y="462" width="13" height="7" fill="#ffc000"/><text class="lg2" x="570" y="469">CH</text><rect class="sw" x="594" y="462" width="14" height="7" fill="#c4d660"/><text class="lg2" x="611" y="469">PC</text>
<rect class="sw" x="423" y="481" width="14" height="7" fill="#c8c8f4"/><text class="lg2" x="440" y="488">SFA</text><rect class="sw" x="472" y="481" width="17" height="7" fill="#dd99ee"/><text class="lg2" x="492" y="488">MUFA</text><rect class="sw" x="525" y="481" width="14" height="7" fill="#ee00ee"/><text class="lg2" x="541" y="488">PUFA</text>
</g>
</svg>
